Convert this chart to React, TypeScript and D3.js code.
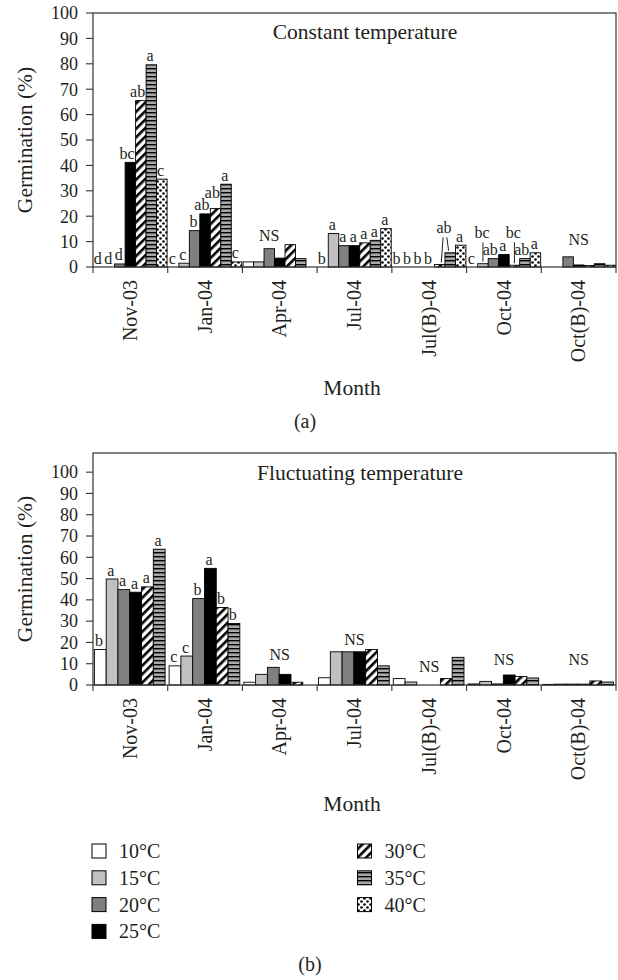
import React from "react";
import * as d3 from "d3";

// ---------- data ----------
const months = ["Nov-03", "Jan-04", "Apr-04", "Jul-04", "Jul(B)-04", "Oct-04", "Oct(B)-04"];
const seriesNames = ["10°C", "15°C", "20°C", "25°C", "30°C", "35°C", "40°C"];
const yTicks = [0, 10, 20, 30, 40, 50, 60, 70, 80, 90, 100];

// (a) constant temperature
const const10 = [0, 0, 2, 0, 0, 0, 0];
const const15 = [0, 1.5, 2, 13.2, 0, 1.3, 0];
const const20 = [1.2, 14.3, 7.2, 8.4, 0, 3.3, 4];
const const25 = [41.2, 20.9, 3.5, 8.4, 0, 4.9, 0.8];
const const30 = [65.5, 23, 8.8, 9.5, 1, 0.7, 0.6];
const const35 = [79.6, 32.6, 3.3, 10.5, 5.6, 3.3, 1.3];
const const40 = [34.6, 2, 0, 15.1, 8.6, 5.6, 0.7];

// (b) fluctuating temperature
const fluct10 = [16.7, 9, 1.3, 3.4, 3, 0.5, 0.3];
const fluct15 = [49.8, 13.6, 5, 15.6, 1.4, 1.7, 0.4];
const fluct20 = [44.8, 40.6, 8.3, 15.6, 0, 0.5, 0.4];
const fluct25 = [43.6, 54.8, 5, 15.6, 0, 4.7, 0.4];
const fluct30 = [46.1, 36.4, 1.3, 16.7, 3, 4, 1.9];
const fluct35 = [63.8, 28.9, 0, 9, 13, 3.3, 1.4];

// significance letters (per month, per series)
const constLetters = [
  ["d", "d", "d", "bc", "ab", "a", "c"],
  ["c", "c", "b", "ab", "ab", "a", "c"],
  ["", "", "", "", "", "", ""],
  ["b", "a", "a", "a", "a", "a", "a"],
  ["b", "b", "b", "b", "", "", "a"],
  ["c", "", "ab", "a", "", "ab", "a"],
  ["", "", "", "", "", "", ""],
];
const constLeaders = [
  { month: "Jul(B)-04", series: ["30°C", "35°C"], text: "ab", value: 13.3 },
  { month: "Oct-04", series: ["15°C"], text: "bc", value: 11.3 },
  { month: "Oct-04", series: ["30°C"], text: "bc", value: 11.3 },
];
const constNS = [
  { month: "Apr-04", anchor: "20°C", value: 10.2 },
  { month: "Oct(B)-04", anchor: "25°C", value: 8.5 },
];

const fluctLetters = [
  ["b", "a", "a", "a", "a", "a"],
  ["c", "c", "b", "a", "b", "b"],
  ["", "", "", "", "", ""],
  ["", "", "", "", "", ""],
  ["", "", "", "", "", ""],
  ["", "", "", "", "", ""],
  ["", "", "", "", "", ""],
];
const fluctNS = [
  { month: "Apr-04", anchor: null, value: 11.7 },
  { month: "Jul-04", anchor: null, value: 18.8 },
  { month: "Jul(B)-04", anchor: null, value: 6.1 },
  { month: "Oct-04", anchor: null, value: 9.4 },
  { month: "Oct(B)-04", anchor: null, value: 9.4 },
];

const legendLeft = ["10°C", "15°C", "20°C", "25°C"];
const legendRight = ["30°C", "35°C", "40°C"];

// ---------- styles ----------
const FONT = "'Liberation Serif', 'Times New Roman', serif";
const INK = "#231f20";
const fills: Record<string, string> = {
  "10°C": "#ffffff",
  "15°C": "#c0c0c0",
  "20°C": "#808080",
  "25°C": "#000000",
  "30°C": "url(#p30)",
  "35°C": "url(#p35)",
  "40°C": "url(#p40)",
};
const LEFT = 93;
const RIGHT = 616;
const LETTER_SIZE = 16;

function Patterns() {
  return (
    <defs>
      <pattern id="p30" patternUnits="userSpaceOnUse" width="6" height="6" patternTransform="rotate(45)">
        <rect width="6" height="6" fill="#fff" />
        <rect width="2.6" height="6" fill="#000" />
      </pattern>
      <pattern id="p35" patternUnits="userSpaceOnUse" width="4" height="4">
        <rect width="4" height="4" fill="#a8a8a8" />
        <rect width="4" height="1.4" fill="#000" />
      </pattern>
      <pattern id="p40" patternUnits="userSpaceOnUse" width="6" height="6">
        <rect width="6" height="6" fill="#fff" />
        <circle cx="1.5" cy="1.5" r="1.3" fill="#000" />
        <circle cx="4.5" cy="4.5" r="1.3" fill="#000" />
      </pattern>
    </defs>
  );
}

type Leader = { month: string; series: string[]; text: string; value: number };
type NS = { month: string; anchor: string | null; value: number };

function Panel(props: {
  top: number;
  baseline: number;
  yMax: number;
  names: string[];
  values: number[][];
  letters: string[][];
  leaders: Leader[];
  ns: NS[];
  title: string;
  titleX: number;
  titleY: number;
  pad: number;
  align: number;
  monthY: number;
  tag: string;
  tagX: number;
  tagY: number;
}) {
  const { top, baseline, yMax, names, values, letters, leaders, ns } = props;
  const x0 = d3.scaleBand<string>().domain(months).range([LEFT, RIGHT]);
  const x1 = d3
    .scaleBand<string>()
    .domain(names)
    .range([0, x0.bandwidth()])
    .paddingOuter(props.pad)
    .align(props.align);
  const y = d3.scaleLinear().domain([0, yMax]).range([baseline, top]);
  const bw = x1.bandwidth();
  const cx = (m: string, s: string) => (x0(m) as number) + (x1(s) as number) + bw / 2;
  const valOf = (m: string, s: string) => values[names.indexOf(s)][months.indexOf(m)];

  // letter placement with simple collision avoidance
  const placed: { key: string; x: number; y: number; text: string }[] = [];
  months.forEach((m, i) => {
    let prev: { x0: number; x1: number; y: number } | null = null;
    names.forEach((s, j) => {
      const l = letters[i][j];
      if (!l) return;
      const w = l.length * 7.6;
      const x = cx(m, s) - (l.length > 1 ? 3.2 : 1.2);
      let yy = y(values[j][i]) - 3.5;
      const box = { x0: x - w / 2, x1: x + w / 2, y: yy };
      if (prev && box.x0 < prev.x1 - 1 && Math.abs(prev.y - yy) < 12) {
        yy = Math.min(yy, prev.y - 12.5);
        box.y = yy;
      }
      prev = box;
      placed.push({ key: m + s, x, y: yy, text: l });
    });
  });

  return (
    <g>
      {/* bars */}
      {names.map((s, j) =>
        months.map((m, i) => {
          const v = values[j][i];
          if (!(v > 0)) return null;
          return (
            <rect
              key={s + m}
              x={(x0(m) as number) + (x1(s) as number)}
              y={y(v)}
              width={bw}
              height={baseline - y(v)}
              fill={fills[s]}
              stroke="#000"
              strokeWidth={0.9}
            />
          );
        })
      )}
      {/* frame */}
      <rect x={LEFT} y={top} width={RIGHT - LEFT} height={baseline - top} fill="none" stroke="#333" strokeWidth={1.2} />
      {/* y ticks */}
      {yTicks.map((t) => (
        <g key={t}>
          <line x1={LEFT - 7} x2={LEFT} y1={y(t)} y2={y(t)} stroke="#333" strokeWidth={1.1} />
          <text x={LEFT - 15} y={y(t)} dy="0.35em" textAnchor="end" fontSize={18} fontFamily={FONT} fill={INK}>
            {t}
          </text>
        </g>
      ))}
      {/* x category boundary ticks */}
      {[...months.map((m) => x0(m) as number), RIGHT].map((x, i) => (
        <line key={i} x1={x} x2={x} y1={baseline} y2={baseline + 6} stroke="#333" strokeWidth={1.1} />
      ))}
      {/* category labels */}
      {months.map((m) => {
        const x = (x0(m) as number) + x0.bandwidth() / 2;
        const yy = baseline + 13;
        return (
          <text
            key={m}
            x={x}
            y={yy}
            dy="0.33em"
            transform={`rotate(-90,${x},${yy})`}
            textAnchor="end"
            fontSize={20}
            fontFamily={FONT}
            fill={INK}
          >
            {m}
          </text>
        );
      })}
      {/* letters */}
      {placed.map((p) => (
        <text key={p.key} x={p.x} y={p.y} textAnchor="middle" fontSize={LETTER_SIZE} fontFamily={FONT} fill={INK}>
          {p.text}
        </text>
      ))}
      {/* raised labels with leader lines */}
      {leaders.map((ld, k) => {
        const centers = ld.series.map((s) => cx(ld.month, s));
        const tx = d3.mean(centers) as number;
        const ty = y(ld.value);
        return (
          <g key={k}>
            <text x={tx - 1} y={ty} textAnchor="middle" fontSize={LETTER_SIZE} fontFamily={FONT} fill={INK}>
              {ld.text}
            </text>
            {ld.series.map((s, q) => {
              const bx = centers[q];
              const sx = ld.series.length === 1 ? bx : tx + (bx - tx) * 0.35;
              return (
                <line
                  key={s}
                  x1={sx}
                  y1={ty + 4}
                  x2={bx - (ld.series.length === 1 ? 0 : (bx - tx) * 0.3)}
                  y2={y(valOf(ld.month, s)) - 2}
                  stroke="#222"
                  strokeWidth={1}
                />
              );
            })}
          </g>
        );
      })}
      {/* NS */}
      {ns.map((n) => {
        const x = n.anchor ? cx(n.month, n.anchor) : (x0(n.month) as number) + x0.bandwidth() / 2;
        return (
          <text key={n.month} x={x} y={y(n.value)} textAnchor="middle" fontSize={LETTER_SIZE} fontFamily={FONT} fill={INK}>
            NS
          </text>
        );
      })}
      {/* title inside */}
      <text x={props.titleX} y={props.titleY} textAnchor="middle" fontSize={21.5} fontFamily={FONT} fill={INK}>
        {props.title}
      </text>
      {/* y axis title */}
      <text
        x={32}
        y={(top + baseline) / 2}
        transform={`rotate(-90,32,${(top + baseline) / 2})`}
        textAnchor="middle"
        fontSize={21.5}
        fontFamily={FONT}
        fill={INK}
      >
        Germination (%)
      </text>
      {/* x axis title */}
      <text x={352} y={props.monthY} textAnchor="middle" fontSize={21.5} fontFamily={FONT} fill={INK}>
        Month
      </text>
      {props.tag ? (
        <text x={props.tagX} y={props.tagY} textAnchor="middle" fontSize={20} fontFamily={FONT} fill={INK}>
          {props.tag}
        </text>
      ) : null}
    </g>
  );
}

function Legend() {
  const rowY = (i: number) => 851 + i * 26.8;
  const item = (name: string, i: number, x: number) => (
    <g key={name}>
      <rect x={x} y={rowY(i) - 7} width={14} height={14} fill={fills[name]} stroke="#000" strokeWidth={1} />
      <text x={x + 27} y={rowY(i)} dy="0.35em" fontSize={20} fontFamily={FONT} fill={INK}>
        {name}
      </text>
    </g>
  );
  return (
    <g>
      {legendLeft.map((n, i) => item(n, i, 92))}
      {legendRight.map((n, i) => item(n, i, 357.5))}
    </g>
  );
}

export default function App() {
  const constValues = [const10, const15, const20, const25, const30, const35, const40];
  const fluctValues = [fluct10, fluct15, fluct20, fluct25, fluct30, fluct35];
  return (
    <svg
      width={618}
      height={980}
      viewBox="0 0 618 980"
      style={{ position: "absolute", left: 0, top: 0, background: "#fff" }}
    >
      <Patterns />
      <rect width={618} height={980} fill="#fff" />
      <Panel
        top={13}
        baseline={267}
        yMax={100}
        names={seriesNames}
        values={constValues}
        letters={constLetters}
        leaders={constLeaders}
        ns={constNS}
        title="Constant temperature"
        titleX={365}
        titleY={39}
        pad={0.06}
        align={0.5}
        monthY={395}
        tag="(a)"
        tagX={305}
        tagY={428}
      />
      <Panel
        top={453}
        baseline={685}
        yMax={109}
        names={seriesNames.slice(0, 6)}
        values={fluctValues}
        letters={fluctLetters}
        leaders={[]}
        ns={fluctNS}
        title="Fluctuating temperature"
        titleX={360}
        titleY={480}
        pad={0.17}
        align={0.35}
        monthY={811}
        tag=""
        tagX={310}
        tagY={971}
      />
      <Legend />
      <text x={310} y={971} textAnchor="middle" fontSize={20} fontFamily={FONT} fill={INK}>
        (b)
      </text>
    </svg>
  );
}
